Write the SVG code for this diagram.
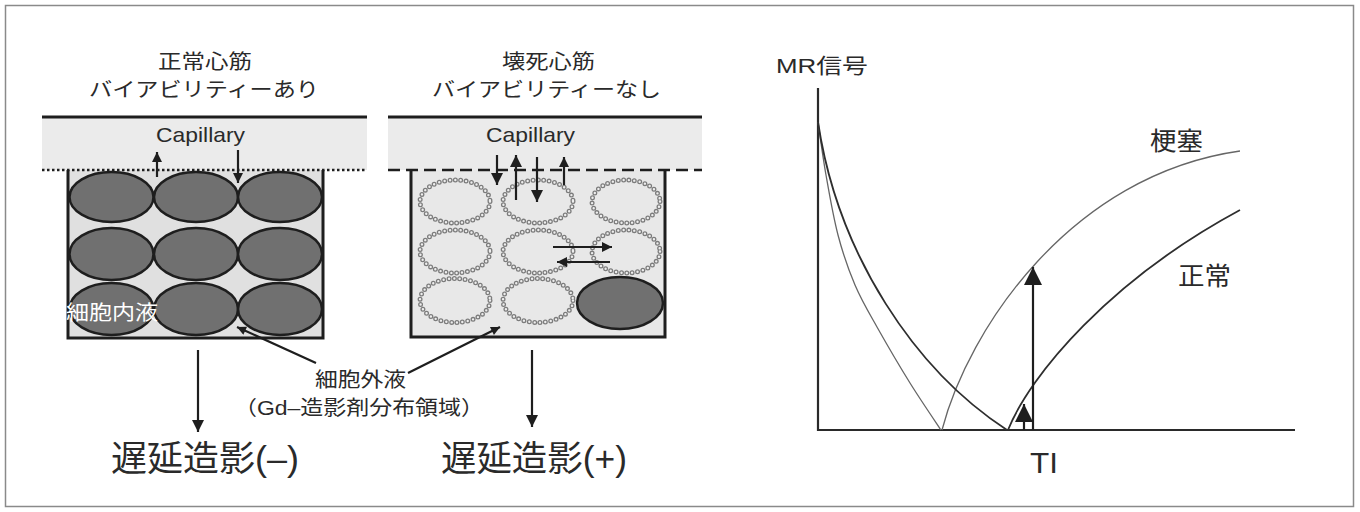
<svg xmlns="http://www.w3.org/2000/svg" width="1360" height="512" viewBox="0 0 1360 512">
  <defs>
    <style>
      .t { font-family: "Liberation Sans", "Noto Sans CJK JP", sans-serif; fill: #2a2a2a; }
      .band { fill: #ebebeb; }
      .edge { stroke: #1e1e1e; stroke-width: 3; fill: none; }
      .cell { fill: #707070; stroke: #1e1e1e; stroke-width: 2.5; }
      .bead-o { fill: none; stroke: #7c7c7c; stroke-width: 5; stroke-linecap: round; stroke-dasharray: 0 5.4; }
      .bead-i { fill: none; stroke: #eeeeee; stroke-width: 2.4; stroke-linecap: round; stroke-dasharray: 0 5.4; }
      .arr { stroke: #1e1e1e; stroke-width: 2.2; fill: none; }
      .axis { stroke: #2a2a2a; stroke-width: 2.2; fill: none; }
      .c-thin { stroke: #666; stroke-width: 1.3; fill: none; }
      .c-thick { stroke: #2e2e2e; stroke-width: 1.8; fill: none; }
    </style>
    <marker id="ah-s" viewBox="0 0 10 10" refX="10" refY="5" markerUnits="userSpaceOnUse" markerWidth="11" markerHeight="10" orient="auto">
      <path d="M0,0 L10,5 L0,10 z" fill="#1e1e1e"/>
    </marker>
    <marker id="ah-m" viewBox="0 0 10 10" refX="10" refY="5" markerUnits="userSpaceOnUse" markerWidth="15" markerHeight="12" orient="auto">
      <path d="M0,0 L10,5 L0,10 z" fill="#1e1e1e"/>
    </marker>
    <marker id="ah-h" viewBox="0 0 10 10" refX="10" refY="5" markerUnits="userSpaceOnUse" markerWidth="13" markerHeight="10" orient="auto">
      <path d="M0,0 L10,5 L0,10 z" fill="#1e1e1e"/>
    </marker>
    <marker id="ah-d" viewBox="0 0 10 10" refX="10" refY="5" markerUnits="userSpaceOnUse" markerWidth="21" markerHeight="12" orient="auto">
      <path d="M0,0 L10,5 L0,10 z" fill="#1e1e1e"/>
    </marker>
    <marker id="ah-p" viewBox="0 0 10 10" refX="10" refY="5" markerUnits="userSpaceOnUse" markerWidth="16" markerHeight="9" orient="auto">
      <path d="M0,0 L10,5 L0,10 z" fill="#1e1e1e"/>
    </marker>
    <marker id="ah-g" viewBox="0 0 10 10" refX="10" refY="5" markerUnits="userSpaceOnUse" markerWidth="18" markerHeight="18" orient="auto">
      <path d="M0,0 L10,5 L0,10 z" fill="#1e1e1e"/>
    </marker>
  </defs>

  <rect width="1360" height="512" fill="#fff"/>
  <rect x="5.5" y="5.5" width="1348" height="501" fill="none" stroke="#8a8a8a" stroke-width="1.5"/>

  <!-- left panel: normal myocardium -->
  <g id="normal-myocardium">
    <text class="t" x="158" y="69" font-size="20" textLength="94" lengthAdjust="spacingAndGlyphs">正常心筋</text>
    <text class="t" x="89" y="97" font-size="20" textLength="230" lengthAdjust="spacingAndGlyphs">バイアビリティーあり</text>
    <rect class="band" x="42" y="117" width="325" height="53"/>
    <line x1="42" y1="117" x2="367" y2="117" stroke="#1e1e1e" stroke-width="3"/>
    <text class="t" x="156" y="141.5" font-size="21" textLength="89" lengthAdjust="spacingAndGlyphs">Capillary</text>
    <rect x="68" y="170" width="255" height="168" fill="#e0e0e0"/>
    <ellipse class="cell" cx="111.5" cy="197" rx="42" ry="25"/>
    <ellipse class="cell" cx="196" cy="197" rx="42" ry="25"/>
    <ellipse class="cell" cx="280" cy="197" rx="42" ry="25"/>
    <ellipse class="cell" cx="111.5" cy="254" rx="42" ry="26"/>
    <ellipse class="cell" cx="196" cy="254" rx="42" ry="26"/>
    <ellipse class="cell" cx="280" cy="254" rx="42" ry="26"/>
    <ellipse class="cell" cx="111.5" cy="309" rx="42" ry="26"/>
    <ellipse class="cell" cx="196" cy="309" rx="42" ry="26"/>
    <ellipse class="cell" cx="280" cy="309" rx="42" ry="26"/>
    <path class="edge" d="M68,170 V338 H323 V170"/>
    <line x1="42" y1="170" x2="367" y2="170" stroke="#1e1e1e" stroke-width="2.5" stroke-dasharray="2.5 2.5"/>
    <text x="66" y="320" font-size="20" fill="#fff" font-family="'Noto Sans CJK JP', sans-serif" textLength="92" lengthAdjust="spacingAndGlyphs">細胞内液</text>
    <text class="t" x="111" y="471" font-size="35" textLength="188" lengthAdjust="spacingAndGlyphs">遅延造影(–)</text>
  </g>

  <!-- middle panel: necrotic myocardium -->
  <g id="necrotic-myocardium">
    <text class="t" x="502" y="69" font-size="20" textLength="93" lengthAdjust="spacingAndGlyphs">壊死心筋</text>
    <text class="t" x="432" y="97" font-size="20" textLength="229" lengthAdjust="spacingAndGlyphs">バイアビリティーなし</text>
    <rect class="band" x="388" y="117" width="314" height="53"/>
    <line x1="388" y1="117" x2="702" y2="117" stroke="#1e1e1e" stroke-width="3"/>
    <text class="t" x="486" y="141.5" font-size="21" textLength="89" lengthAdjust="spacingAndGlyphs">Capillary</text>
    <rect x="411" y="170" width="254" height="167" fill="#e8e8e8"/>
    <g id="leaky-cells">
      <ellipse class="bead-o" cx="455" cy="201.5" rx="35" ry="21.5"/>
      <ellipse class="bead-i" cx="455" cy="201.5" rx="35" ry="21.5"/>
      <ellipse class="bead-o" cx="538" cy="201.5" rx="35" ry="21.5"/>
      <ellipse class="bead-i" cx="538" cy="201.5" rx="35" ry="21.5"/>
      <ellipse class="bead-o" cx="626" cy="201.5" rx="34" ry="21.5"/>
      <ellipse class="bead-i" cx="626" cy="201.5" rx="34" ry="21.5"/>
      <ellipse class="bead-o" cx="455" cy="251.5" rx="35" ry="21.5"/>
      <ellipse class="bead-i" cx="455" cy="251.5" rx="35" ry="21.5"/>
      <ellipse class="bead-o" cx="538" cy="251.5" rx="35" ry="21.5"/>
      <ellipse class="bead-i" cx="538" cy="251.5" rx="35" ry="21.5"/>
      <ellipse class="bead-o" cx="626" cy="251.5" rx="34" ry="21.5"/>
      <ellipse class="bead-i" cx="626" cy="251.5" rx="34" ry="21.5"/>
      <ellipse class="bead-o" cx="455" cy="300.5" rx="35" ry="22"/>
      <ellipse class="bead-i" cx="455" cy="300.5" rx="35" ry="22"/>
      <ellipse class="bead-o" cx="538" cy="300.5" rx="35" ry="22"/>
      <ellipse class="bead-i" cx="538" cy="300.5" rx="35" ry="22"/>
    </g>
    <ellipse class="cell" cx="620" cy="303" rx="43" ry="26" fill="#777"/>
    <path class="edge" d="M411,170 V337 H665 V170"/>
    <line x1="388" y1="170" x2="702" y2="170" stroke="#1e1e1e" stroke-width="2.5" stroke-dasharray="12 6"/>
    <text class="t" x="441" y="471" font-size="35" textLength="186" lengthAdjust="spacingAndGlyphs">遅延造影(+)</text>
  </g>

  <!-- shared label for the extracellular space -->
  <g id="extracellular-label">
    <text class="t" x="315" y="387" font-size="20" textLength="91" lengthAdjust="spacingAndGlyphs">細胞外液</text>
    <text class="t" x="234" y="415" font-size="20" textLength="250" lengthAdjust="spacingAndGlyphs">（Gd–造影剤分布領域）</text>
  </g>

  <!-- signal recovery graph -->
  <g id="signal-graph">
    <text class="t" x="776" y="73" font-size="21" textLength="92" lengthAdjust="spacingAndGlyphs">MR信号</text>
    <path class="axis" d="M818,88 V430 H1295"/>
    <text class="t" x="1150" y="150" font-size="25" textLength="53" lengthAdjust="spacingAndGlyphs">梗塞</text>
    <text class="t" x="1178" y="285" font-size="25" textLength="53" lengthAdjust="spacingAndGlyphs">正常</text>
    <text class="t" x="1030" y="473" font-size="29" textLength="28" lengthAdjust="spacingAndGlyphs">TI</text>
    <!-- infarct: fast T1 recovery (thin) -->
    <path class="c-thin" d="M818,122 C819.3,130.8 822.7,156.2 826,175 C829.3,193.8 833.2,216.7 838,235 C842.8,253.3 848.5,269.7 855,285 C861.5,300.3 867.8,310.7 877,327 C886.2,343.3 899.3,365.8 910,383 C920.7,400.2 935.8,422.2 941,430"/>
    <path class="c-thin" d="M942,430 C968,330 1070,175 1240,151"/>
    <!-- normal myocardium (thick) -->
    <path class="c-thick" d="M818,122 C838,255 915,370 1007,430"/>
    <path class="c-thick" d="M1008,430 C1030,375 1110,280 1240,210"/>
  </g>

  <!-- connectors -->
  <g id="connectors">
    <line class="arr" x1="157" y1="177" x2="157" y2="152" marker-end="url(#ah-s)"/>
    <line class="arr" x1="238" y1="150" x2="238" y2="183" marker-end="url(#ah-s)"/>
    <line class="arr" x1="497" y1="155" x2="497" y2="185" marker-end="url(#ah-m)"/>
    <line class="arr" x1="516" y1="200" x2="516" y2="155" marker-end="url(#ah-m)"/>
    <line class="arr" x1="537" y1="157" x2="537" y2="202" marker-end="url(#ah-m)"/>
    <line class="arr" x1="564" y1="185" x2="564" y2="157" stroke-width="1.6" marker-end="url(#ah-s)"/>
    <line class="arr" x1="553" y1="247" x2="612" y2="247" marker-end="url(#ah-h)"/>
    <line class="arr" x1="610" y1="262" x2="557" y2="262" marker-end="url(#ah-h)"/>
    <line class="arr" x1="198" y1="350" x2="198" y2="432" stroke-width="2.5" marker-end="url(#ah-d)"/>
    <line class="arr" x1="532" y1="350" x2="532" y2="427" stroke-width="1.8" marker-end="url(#ah-d)"/>
    <line class="arr" x1="316" y1="363" x2="237" y2="327" stroke-width="1.8" marker-end="url(#ah-p)"/>
    <line class="arr" x1="408" y1="373" x2="500" y2="327" stroke-width="1.8" marker-end="url(#ah-p)"/>
    <line class="arr" x1="1033" y1="430" x2="1033" y2="267" marker-end="url(#ah-g)"/>
    <line class="arr" x1="1024" y1="430" x2="1024" y2="404" stroke-width="1.6" marker-end="url(#ah-g)"/>
  </g>
</svg>
